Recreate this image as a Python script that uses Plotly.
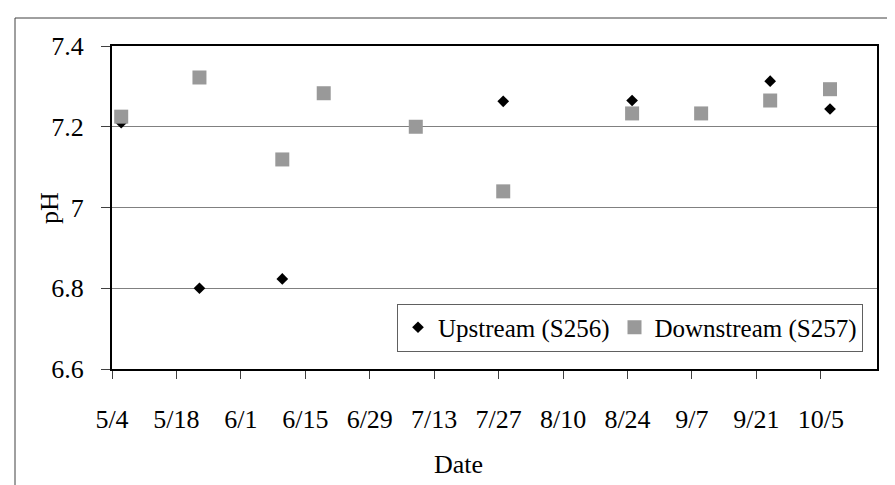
import plotly.graph_objects as go

# ---- data ----
up_dates = ["2009-05-06", "2009-05-23", "2009-06-10", "2009-07-28",
            "2009-08-25", "2009-09-09", "2009-09-24", "2009-10-07"]
up_ph = [7.21, 6.80, 6.823, 7.263, 7.265, 7.232, 7.313, 7.244]

down_dates = ["2009-05-06", "2009-05-23", "2009-06-10", "2009-06-19", "2009-07-09",
              "2009-07-28", "2009-08-25", "2009-09-09", "2009-09-24", "2009-10-07"]
down_ph = [7.225, 7.322, 7.119, 7.283, 7.200, 7.040, 7.233, 7.233, 7.265, 7.293]

tick_dates = ["2009-05-04", "2009-05-18", "2009-06-01", "2009-06-15", "2009-06-29",
              "2009-07-13", "2009-07-27", "2009-08-10", "2009-08-24", "2009-09-07",
              "2009-09-21", "2009-10-05"]
tick_labels = ["5/4", "5/18", "6/1", "6/15", "6/29", "7/13", "7/27", "8/10",
               "8/24", "9/7", "9/21", "10/5"]

y_ticks = [6.6, 6.8, 7.0, 7.2, 7.4]
y_labels = ["6.6", "6.8", "7", "7.2", "7.4"]

FONT = "Liberation Serif"

fig = go.Figure()
fig.add_trace(go.Scatter(
    x=up_dates, y=up_ph, mode="markers", name="Upstream (S256)",
    marker=dict(symbol="diamond", size=9, color="black"),
))
fig.add_trace(go.Scatter(
    x=down_dates, y=down_ph, mode="markers", name="Downstream (S257)",
    marker=dict(symbol="square", size=14, color="#999999"),
))

L, T, R, B = 104, 38, 869, 361
def px(x): return (x - L) / (R - L)
def py(y): return (B - y) / (B - T)

fig.update_layout(
    width=895, height=485,
    margin=dict(l=L, r=895 - R, t=T, b=485 - B),
    paper_bgcolor="white", plot_bgcolor="white",
    font=dict(family=FONT, size=26, color="black"),
    showlegend=True,
    legend=dict(
        orientation="h", x=px(855), xanchor="right", y=py(319.5), yanchor="middle",
        bgcolor="white", bordercolor="#606060", borderwidth=1,
        font=dict(family=FONT, size=25, color="black"),
    ),
    xaxis=dict(
        type="date", range=["2009-05-04", "2009-10-17 05:00"],
        tickmode="array", tickvals=tick_dates, ticktext=tick_labels,
        ticks="outside", ticklen=8, tickcolor="#404040", tickwidth=1,
        ticklabelstandoff=18,
        showline=True, linecolor="black", linewidth=2, mirror=True,
        showgrid=False, zeroline=False,
    ),
    yaxis=dict(
        range=[6.6, 7.4],
        tickmode="array", tickvals=y_ticks, ticktext=y_labels,
        ticks="outside", ticklen=9, tickcolor="#404040", tickwidth=1,
        ticklabelstandoff=12,
        showline=True, linecolor="black", linewidth=2, mirror=True,
        showgrid=True, gridcolor="#808080", gridwidth=1, zeroline=False,
    ),
    annotations=[
        dict(text="Date", xref="paper", yref="paper", x=px(450), y=py(457),
             xanchor="center", yanchor="middle", showarrow=False,
             font=dict(family=FONT, size=26, color="black")),
        dict(text="pH", xref="paper", yref="paper", x=px(41), y=py(200),
             xanchor="center", yanchor="middle", showarrow=False, textangle=-90,
             font=dict(family=FONT, size=26, color="black")),
    ],
    shapes=[
        dict(type="rect", xref="paper", yref="paper",
             x0=px(7), x1=px(905), y0=py(495), y1=py(10),
             line=dict(color="#404040", width=1), fillcolor="rgba(0,0,0,0)",
             layer="below"),
    ],
)

fig.write_html("out.html")
